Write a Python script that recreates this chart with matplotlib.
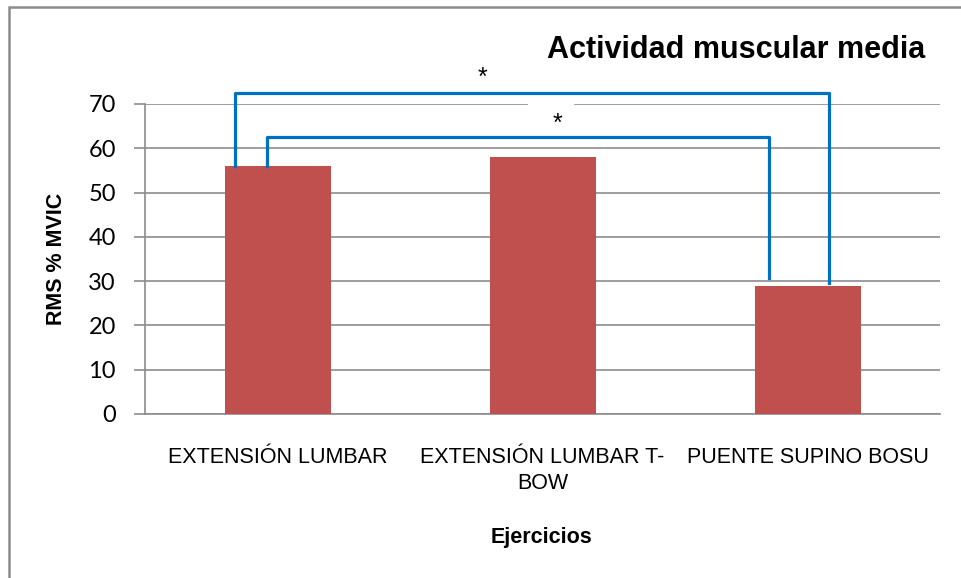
import numpy as np
import matplotlib.pyplot as plt
from matplotlib.patches import Rectangle

categories = ['EXTENSIÓN LUMBAR', 'EXTENSIÓN LUMBAR T-\nBOW', 'PUENTE SUPINO BOSU']
values = [56, 58, 29]

bar_col = '#C0504D'
line_col = '#0070C0'
grid_col = '#8C8C8C'
sans = ['Liberation Sans', 'DejaVu Sans']

fig = plt.figure(figsize=(9.61, 5.78), dpi=100)
ax = fig.add_axes([145/961, 1-414/578, 795/961, 310/578])

x = np.arange(len(categories))
ax.bar(x, values, width=0.4, color=bar_col, zorder=3)

ax.set_xlim(-0.5, 2.5)
ax.set_ylim(0, 70)
ax.set_yticks(np.arange(0, 71, 10))
ax.set_xticks(x)
ax.set_xticklabels(categories, family=sans, fontsize=15.5, linespacing=1.3)
for t in ax.get_yticklabels():
    t.set_family(['Lato', 'DejaVu Sans'])
    t.set_fontsize(17)
ax.tick_params(axis='x', length=0, pad=24)
ax.tick_params(axis='y', length=8, width=1.2, color=grid_col, pad=13)

ax.grid(axis='y', color=grid_col, linewidth=1.2, zorder=0)
for s in ['top', 'right']:
    ax.spines[s].set_visible(False)
for s in ['left', 'bottom']:
    ax.spines[s].set_color(grid_col)
    ax.spines[s].set_linewidth(1.2)

# gap in top gridline
ax.plot([0.953, 1.111], [70, 70], color='white', linewidth=3, zorder=2, clip_on=False)

# significance brackets
ax.plot([-0.16, -0.16, 2.081, 2.081], [values[0], 72.5, 72.5, values[2] + 0.6],
        color=line_col, linewidth=2.3, clip_on=False, zorder=4)
ax.plot([-0.04, -0.04, 1.855, 1.855], [values[0], 62.5, 62.5, values[2] + 1.6],
        color=line_col, linewidth=2.3, clip_on=False, zorder=4)
ax.text(0.775, 76.0, '*', ha='center', va='center', fontsize=18, family=sans)
ax.text(1.055, 65.5, '*', ha='center', va='center', fontsize=18, family=sans)

fig.text(925/961, 1-50/578, 'Actividad muscular media', ha='right', va='center',
         fontsize=22, fontweight='bold', family=sans)
fig.text(57/961, 1-259/578, 'RMS % MVIC', rotation=90, ha='center', va='center',
         fontsize=15.5, fontweight='bold', family=sans)
fig.text(542/961, 1-537/578, 'Ejercicios', ha='center', va='center',
         fontsize=15.5, fontweight='bold', family=sans)

# chart frame
fig.add_artist(Rectangle((9/961, -0.1), 1.0, 1 - 7/578 + 0.1, transform=fig.transFigure,
                         fill=False, edgecolor=grid_col, linewidth=1.8))

fig.savefig('out.png', dpi=100)
